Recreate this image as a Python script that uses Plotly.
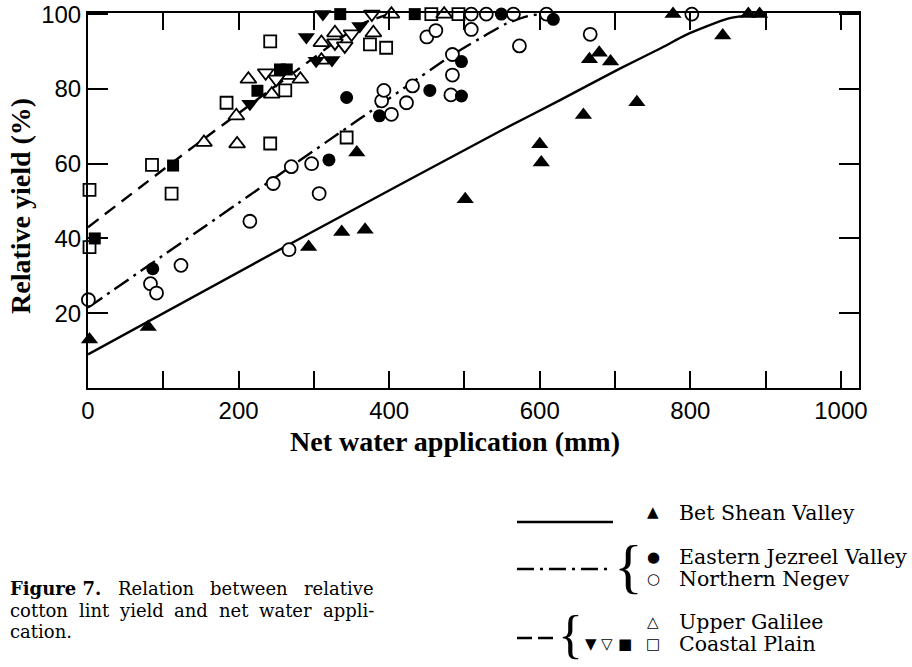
import plotly.graph_objects as go

# ---------------- data ----------------
bet_shean_x = [2, 80, 293, 337, 368, 357, 501, 600, 602, 658, 666, 679, 694, 729, 777, 843, 877, 892, 981]
bet_shean_y = [13, 16.3, 37.7, 41.7, 42.3, 63, 50.5, 65.2, 60.3, 73, 87.9, 89.7, 87.3, 76.4, 100, 94.3, 100, 100, 101]

jezreel_x = [86, 320, 343.5, 387, 454, 496, 496, 549, 618]
jezreel_y = [31.9, 61, 77.7, 72.8, 79.6, 78.1, 87.3, 100, 98.6]

negev_x = [0.5, 83, 91, 123.5, 215, 246, 267, 270, 297, 307, 390, 393, 403, 423, 431, 450, 462,
           482, 484, 484, 509, 509, 529, 565, 573, 609, 667, 802]
negev_y = [23.6, 27.9, 25.4, 32.8, 44.6, 54.7, 37, 59.2, 60, 52, 76.8, 79.6, 73.2, 76.3, 80.8, 93.9, 95.6,
           78.4, 83.7, 89.2, 95.9, 100, 100, 100, 91.5, 100, 94.6, 100]

galilee_x = [154, 197, 198, 213, 244, 268, 282, 310, 310, 328, 379, 403, 473]
galilee_y = [65.7, 72.8, 65.3, 82.6, 78.6, 83.6, 82.6, 92.4, 87.7, 95, 95, 100, 100]

coastal_dtri_fill_x = [215, 290, 303, 324, 312, 361]
coastal_dtri_fill_y = [76, 93.9, 87.5, 87.7, 100, 96.8]
coastal_dtri_open_x = [236, 250, 328, 341, 350, 377]
coastal_dtri_open_y = [84.3, 82.6, 92.3, 91.5, 94.7, 100]
coastal_sq_fill_x = [9, 113, 225, 255, 264, 335, 434]
coastal_sq_fill_y = [40, 59.5, 79.5, 85.2, 85.2, 100, 100]
coastal_sq_open_x = [2, 2, 85, 111, 184, 242, 242, 262, 343.5, 374.5, 396, 456, 492]
coastal_sq_open_y = [53, 37.7, 59.7, 52, 76.3, 65.4, 92.7, 79.6, 67, 91.9, 91, 100, 100]

# fitted response curves
curve_solid_x = [0, 300, 550, 627, 707, 760, 795, 850, 890]
curve_solid_y = [9, 42, 69, 77, 85.5, 90.8, 94.5, 98.8, 100]
curve_dashdot_x = [0, 200, 361, 485, 530, 556, 583, 600]
curve_dashdot_y = [21.5, 49.5, 72, 89.2, 94.6, 97.5, 99.4, 100]
curve_dash_x = [0, 145, 281, 330, 365, 400]
curve_dash_y = [43, 65.3, 85.5, 92.8, 97.5, 100]

x_tick_vals = [0, 100, 200, 300, 400, 500, 600, 700, 800, 900, 1000]
x_tick_text = ["0", "", "200", "", "400", "", "600", "", "800", "", "1000"]
y_ticks = [20, 40, 60, 80, 100]

legend_rows = ["Bet Shean Valley", "Eastern Jezreel Valley", "Northern Negev", "Upper Galilee", "Coastal Plain"]
caption_lines = [
    [("<b>Figure 7.</b>", 8), ("Relation", 116), ("between", 208), ("relative", 302)],
    [("cotton", 8), ("lint", 77), ("yield", 117), ("and", 172), ("net", 217), ("water", 257), ("appli-", 321)],
    [("cation.", 8)],
]

# ---------------- figure ----------------
BLACK = "black"
fig = go.Figure()

def curve(x, y, dash):
    fig.add_trace(go.Scatter(x=x, y=y, mode="lines", line=dict(color=BLACK, width=2.4, dash=dash, shape="spline", smoothing=0.6),
                             hoverinfo="skip", showlegend=False, cliponaxis=False))

curve(curve_solid_x, curve_solid_y, "solid")
curve(curve_dashdot_x, curve_dashdot_y, "17px,6px,3px,6px")
curve(curve_dash_x, curve_dash_y, "13px,8px")

def pts(x, y, symbol, size, filled, name):
    fig.add_trace(go.Scatter(
        x=x, y=y, mode="markers", name=name, showlegend=False, cliponaxis=False,
        marker=dict(symbol=symbol, size=size,
                    color=BLACK if filled else "white",
                    line=dict(color=BLACK, width=0 if filled else 1.8))))

pts(negev_x, negev_y, "circle", 13, False, "Northern Negev")
pts(coastal_sq_open_x, coastal_sq_open_y, "square", 12, False, "Coastal Plain")
pts(galilee_x, galilee_y, "triangle-up", 14, False, "Upper Galilee")
pts(coastal_dtri_open_x, coastal_dtri_open_y, "triangle-down", 14, False, "Coastal Plain")
pts(coastal_sq_fill_x, coastal_sq_fill_y, "square", 12, True, "Coastal Plain")
pts(coastal_dtri_fill_x, coastal_dtri_fill_y, "triangle-down", 15, True, "Coastal Plain")
pts(jezreel_x, jezreel_y, "circle", 13, True, "Eastern Jezreel Valley")
pts(bet_shean_x, bet_shean_y, "triangle-up", 15, True, "Bet Shean Valley")

# plot area in pixels
L, R, T, B = 88, 859, 13, 388
W, H = 912, 667

def px(x):
    return (x - L) / (R - L)

def py(y):
    return (B - y) / (B - T)

tickfont = dict(family="Liberation Sans, Arial, sans-serif", size=24, color=BLACK)
fig.update_layout(
    xaxis=dict(range=[0, 1024], showline=True, linecolor=BLACK, linewidth=2, mirror="ticks",
               ticks="inside", ticklen=17, tickwidth=1.8, tickcolor=BLACK,
               tickvals=x_tick_vals, ticktext=x_tick_text, tickfont=tickfont,
               showgrid=False, zeroline=False, automargin=False),
    yaxis=dict(range=[0, 100.3], showline=True, linecolor=BLACK, linewidth=2, mirror="ticks",
               ticks="inside", ticklen=20, tickwidth=1.8, tickcolor=BLACK,
               tickvals=y_ticks, tickfont=tickfont, showgrid=False, zeroline=False, automargin=False),
)

ann = []
titlefont = dict(family="Liberation Serif, Times New Roman, serif", size=28, color=BLACK)
ann.append(dict(text="<b>Net water application (mm)</b>", x=px(455), y=py(441), xref="paper", yref="paper",
                showarrow=False, font=titlefont, xanchor="center", yanchor="middle"))
ann.append(dict(text="<b>Relative yield (%)</b>", x=px(21), y=py(206), xref="paper", yref="paper",
                showarrow=False, font=titlefont, textangle=-90, xanchor="center", yanchor="middle"))

legfont = dict(family="DejaVu Serif, serif", size=20.5, color=BLACK)
rows_y = [513, 557, 579, 622, 644]
for txt, yy in zip(legend_rows, rows_y):
    ann.append(dict(text=txt, x=px(677), y=py(yy), xref="paper", yref="paper", showarrow=False,
                    font=legfont, xanchor="left", yanchor="middle"))

symfont = dict(family="DejaVu Sans, sans-serif", size=15, color=BLACK)
legend_syms = [("▲", 653, 512), ("●", 653, 557), ("○", 653, 579), ("△", 653, 622),
               ("▼", 591, 644), ("▽", 607, 644), ("■", 625, 644), ("□", 653, 644)]
for s, xx, yy in legend_syms:
    ann.append(dict(text=s, x=px(xx), y=py(yy), xref="paper", yref="paper", showarrow=False,
                    font=symfont, xanchor="center", yanchor="middle"))

ann.append(dict(text="{", x=px(628), y=py(566), xref="paper", yref="paper", showarrow=False,
                font=dict(family="Liberation Serif, serif", size=60, color=BLACK), xanchor="center", yanchor="middle"))
ann.append(dict(text="{", x=px(570), y=py(634), xref="paper", yref="paper", showarrow=False,
                font=dict(family="Liberation Serif, serif", size=52, color=BLACK), xanchor="center", yanchor="middle"))

capfont = dict(family="DejaVu Serif, serif", size=18, color=BLACK)
for i, line in enumerate(caption_lines):
    yy = 588 + 22 * i
    for word, xx in line:
        ann.append(dict(text=word, x=px(xx), y=py(yy), xref="paper", yref="paper", showarrow=False,
                        font=capfont, xanchor="left", yanchor="middle"))

shapes = [
    dict(type="line", xref="paper", yref="paper", x0=px(517), x1=px(613), y0=py(522), y1=py(522),
         line=dict(color=BLACK, width=2.4)),
    dict(type="line", xref="paper", yref="paper", x0=px(517), x1=px(613), y0=py(569), y1=py(569),
         line=dict(color=BLACK, width=2.4, dash="17px,6px,3px,6px")),
    dict(type="line", xref="paper", yref="paper", x0=px(517), x1=px(553), y0=py(638), y1=py(638),
         line=dict(color=BLACK, width=2.4, dash="15px,6px")),
]

fig.update_layout(width=W, height=H, margin=dict(l=L, r=W - R, t=T, b=H - B, pad=0),
                  paper_bgcolor="white", plot_bgcolor="white", showlegend=False,
                  annotations=ann, shapes=shapes)

fig.write_html("out.html")
